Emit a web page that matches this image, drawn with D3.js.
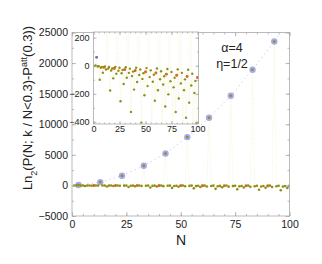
<!DOCTYPE html>
<html>
<head>
<meta charset="utf-8">
<script src="https://cdn.jsdelivr.net/npm/d3@7"></script>
<style>
  body { margin: 0; background: #fff; }
  svg text { font-family: "Liberation Sans", Arial, sans-serif; fill: #222; }
</style>
</head>
<body>
<div id="chart"></div>
<script>
// olive series, one value per N = 1..100
var oliveVals = [
  -2, 2, 60, -6, -3, -100, -14, -9, -50, -9,
  -5, -27, 540, -21, -9, -176, -34, -20, -90, -17,
  -8, -57, 1590, -36, -15, -253, -54, -31, -130, -26,
  -11, -86, 3220, -51, -21, -329, -74, -42, -170, -34,
  -14, -116, 5230, -66, -27, -405, -94, -53, -210, -43,
  -17, -145, 7900, -81, -33, -482, -114, -64, -250, -51,
  -20, -175, 11070, -96, -39, -558, -134, -75, -290, -60,
  -23, -204, 14670, -111, -45, -634, -154, -86, -330, -68,
  -26, -233, 18920, -126, -51, -711, -174, -97, -370, -77,
  -29, -263, 23540, -141, -57, -787, -194, -108, -410, -85
];
// blue circles
var blueN = [3, 13, 23, 33, 43, 53, 63, 73, 83, 93];
var blueVals = [60, 540, 1590, 3220, 5230, 7900, 11070, 14670, 18920, 23540];
// blue dotted trend (runs off the top of the frame)
var trendN = [3, 13, 23, 33, 43, 53, 63, 73, 83, 93, 100];
var trendVals = [60, 540, 1590, 3220, 5230, 7900, 11070, 14670, 18920, 23540, 27100];
// red points
var redN = [10, 20, 30, 40, 50, 60, 70, 80, 90, 100];
var redVals = [-12, -20, -28, -36, -44, -52, -60, -68, -76, -84];

var mainXTicks = [0, 25, 50, 75, 100];
var mainYTicks = [-5000, 0, 5000, 10000, 15000, 20000, 25000];
var insetXTicks = [0, 25, 50, 75, 100];
var insetYTicks = [-400, -200, 0, 200];

var olive = d3.range(oliveVals.length).map(function(i) { return {n: i + 1, v: oliveVals[i]}; });
var blue = blueN.map(function(n, i) { return {n: n, v: blueVals[i]}; });
var trend = trendN.map(function(n, i) { return {n: n, v: trendVals[i]}; });
var red = redN.map(function(n, i) { return {n: n, v: redVals[i]}; });

var svg = d3.select("#chart").append("svg")
  .attr("width", 322).attr("height", 264);

var frameCol = "#aaa";
var oliveCol = "#8f8f12";
var lineCol = "#ececc0";
var fmt = d3.format("d");

// main plot area
var mx = d3.scaleLinear().domain([0, 100]).range([72, 289.5]);
var my = d3.scaleLinear().domain([-5000, 25000]).range([216, 32.5]);

svg.append("clipPath").attr("id", "mainClip")
  .append("rect").attr("x", 72).attr("y", 32.5).attr("width", 217.5).attr("height", 183.5);

// inward ticks on all four sides
function frameTicks(g, x, y, xt, yt, xMinor, yMinor, opts) {
  var x0 = x.range()[0], x1 = x.range()[1];
  var y0 = y.range()[0], y1 = y.range()[1];
  g.append("g").attr("transform", "translate(0," + y0 + ")")
    .call(d3.axisBottom(x).tickValues(xt).tickFormat(fmt).tickSizeInner(-opts.tick).tickSizeOuter(0).tickPadding(opts.xPad))
    .call(function(a) { a.select(".domain").remove(); a.selectAll("text").style("font-size", opts.fs + "px"); });
  g.append("g").attr("transform", "translate(0," + y0 + ")")
    .call(d3.axisBottom(x).tickValues(xMinor).tickSize(-opts.minor).tickFormat(""))
    .call(function(a) { a.select(".domain").remove(); });
  g.append("g").attr("transform", "translate(0," + y1 + ")")
    .call(d3.axisTop(x).tickValues(xt).tickSize(-opts.tick).tickFormat(""))
    .call(function(a) { a.select(".domain").remove(); });
  g.append("g").attr("transform", "translate(0," + y1 + ")")
    .call(d3.axisTop(x).tickValues(xMinor).tickSize(-opts.minor).tickFormat(""))
    .call(function(a) { a.select(".domain").remove(); });
  g.append("g").attr("transform", "translate(" + x0 + ",0)")
    .call(d3.axisLeft(y).tickValues(yt).tickFormat(fmt).tickSizeInner(-opts.tick).tickSizeOuter(0).tickPadding(opts.yPad))
    .call(function(a) { a.select(".domain").remove(); a.selectAll("text").style("font-size", opts.fs + "px"); });
  g.append("g").attr("transform", "translate(" + x0 + ",0)")
    .call(d3.axisLeft(y).tickValues(yMinor).tickSize(-opts.minor).tickFormat(""))
    .call(function(a) { a.select(".domain").remove(); });
  g.append("g").attr("transform", "translate(" + opts.right + ",0)")
    .call(d3.axisRight(y).tickValues(yt).tickSize(-opts.tick).tickFormat(""))
    .call(function(a) { a.select(".domain").remove(); });
  g.append("g").attr("transform", "translate(" + opts.right + ",0)")
    .call(d3.axisRight(y).tickValues(yMinor).tickSize(-opts.minor).tickFormat(""))
    .call(function(a) { a.select(".domain").remove(); });
  g.selectAll(".tick line").attr("stroke", frameCol).attr("stroke-width", 0.8);
  g.append("rect")
    .attr("x", x0).attr("y", Math.min(opts.top, y1))
    .attr("width", opts.right - x0).attr("height", opts.bottom - Math.min(opts.top, y1))
    .attr("fill", "none").attr("stroke", frameCol).attr("stroke-width", 0.8);
}

var mainG = svg.append("g");
var mainPlot = mainG.append("g").attr("clip-path", "url(#mainClip)");

var lineGen = function(x, y) {
  return d3.line().x(function(d) { return x(d.n); }).y(function(d) { return y(d.v); });
};

mainPlot.append("path").datum(olive)
  .attr("d", lineGen(mx, my)).attr("fill", "none")
  .attr("stroke", lineCol).attr("stroke-width", 0.6).attr("stroke-dasharray", "1,1.5");

mainPlot.append("path").datum(trend)
  .attr("d", lineGen(mx, my)).attr("fill", "none")
  .attr("stroke", "#b4b8f0").attr("stroke-width", 1).attr("stroke-dasharray", "1,3.5");

mainPlot.selectAll(".blueDot").data(blue).enter().append("circle")
  .attr("cx", function(d) { return mx(d.n); })
  .attr("cy", function(d) { return my(d.v); })
  .attr("r", 3.2).attr("fill", "#a6aaea");

mainPlot.selectAll(".oliveDot").data(olive).enter().append("circle")
  .attr("cx", function(d) { return mx(d.n); })
  .attr("cy", function(d) { return my(d.v); })
  .attr("r", 1.3).attr("fill", oliveCol);

mainPlot.selectAll(".redDot").data(red).enter().append("circle")
  .attr("cx", function(d) { return mx(d.n); })
  .attr("cy", function(d) { return my(d.v); })
  .attr("r", 1.4).attr("fill", "#e0642c");

frameTicks(mainG, mx, my, mainXTicks, mainYTicks,
  d3.range(0, 101, 5), d3.range(-5000, 25001, 2500),
  {tick: 4, minor: 2, fs: 10.5, xPad: 5, yPad: 4, right: 289.5, top: 32.5, bottom: 216});

// inset
var ix = d3.scaleLinear().domain([0, 100]).range([93.5, 197.5]);
var iy = d3.scaleLinear().domain([-415, 240]).range([124, 32]);

svg.append("clipPath").attr("id", "insetClip")
  .append("rect").attr("x", 93.5).attr("y", 32).attr("width", 105).attr("height", 92);

var insetG = svg.append("g");
insetG.append("rect")
  .attr("x", 93.5).attr("y", 32).attr("width", 105).attr("height", 92)
  .attr("fill", "#fff");

var insetPlot = insetG.append("g").attr("clip-path", "url(#insetClip)");

insetPlot.append("path").datum(olive)
  .attr("d", lineGen(ix, iy)).attr("fill", "none")
  .attr("stroke", lineCol).attr("stroke-width", 0.6).attr("stroke-dasharray", "1,1.5");

insetPlot.selectAll(".oliveDot").data(olive).enter().append("circle")
  .attr("cx", function(d) { return ix(d.n); })
  .attr("cy", function(d) { return iy(d.v); })
  .attr("r", 1.2).attr("fill", oliveCol);

insetPlot.selectAll(".redDot").data(red).enter().append("circle")
  .attr("cx", function(d) { return ix(d.n); })
  .attr("cy", function(d) { return iy(d.v); })
  .attr("r", 1.4).attr("fill", "#e0642c");

insetPlot.selectAll(".blueDot").data(blue).enter().append("circle")
  .attr("cx", function(d) { return ix(d.n); })
  .attr("cy", function(d) { return iy(d.v); })
  .attr("r", 1.3).attr("fill", "#6c70c0");

frameTicks(insetG, ix, iy, insetXTicks, insetYTicks,
  d3.range(0, 101, 5), d3.range(-400, 201, 100),
  {tick: 3, minor: 1.5, fs: 9, xPad: 2, yPad: 4, right: 198.5, top: 32, bottom: 124});

// labels
svg.append("text")
  .attr("transform", "translate(32,108) rotate(-90)")
  .attr("text-anchor", "middle")
  .style("font-size", "13px")
  .html('Ln<tspan baseline-shift="sub" font-size="9px">2</tspan>(P(N; k / N&lt;0.3)-P<tspan baseline-shift="super" font-size="9px">att</tspan>(0.3))');

svg.append("text")
  .attr("x", 181).attr("y", 245)
  .attr("text-anchor", "middle")
  .style("font-size", "14px")
  .text("N");

svg.append("text")
  .attr("x", 232).attr("y", 52)
  .attr("text-anchor", "middle")
  .style("font-size", "12.5px")
  .text("α=4");

svg.append("text")
  .attr("x", 232).attr("y", 68)
  .attr("text-anchor", "middle")
  .style("font-size", "12.5px")
  .text("η=1/2");
</script>
</body>
</html>
